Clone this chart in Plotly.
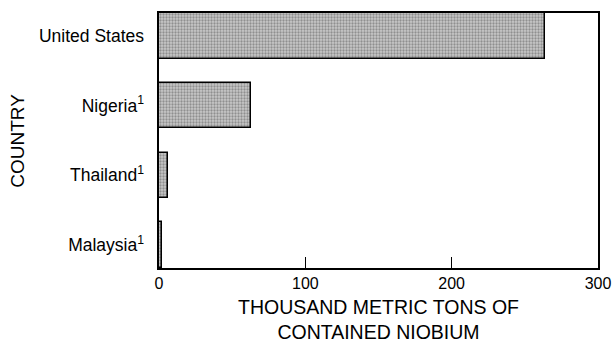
import plotly.graph_objects as go

countries = ["United States", "Nigeria<sup>1</sup>", "Thailand<sup>1</sup>", "Malaysia<sup>1</sup>"]
values = [264, 63, 6, 2]
x_ticks = [0, 100, 200, 300]

font_family = "Liberation Sans, Arial, Helvetica, sans-serif"

fig = go.Figure(go.Bar(
    y=countries,
    x=values,
    orientation="h",
    width=0.65,
    marker=dict(
        color="#b4b4b4",
        line=dict(color="black", width=1.5),
        pattern=dict(shape=".", fgcolor="#555555", bgcolor="#c8c8c8", size=3, solidity=0.45),
    ),
))

fig.update_layout(
    width=613, height=345,
    margin=dict(l=159, r=15, t=13, b=77),
    paper_bgcolor="white", plot_bgcolor="white",
    font=dict(family=font_family, color="black", size=15),
    showlegend=False,
    bargap=0,
)
fig.update_xaxes(
    range=[0, 300], tickvals=x_ticks, ticks="inside", ticklen=11, tickwidth=1.2,
    tickcolor="black", showline=True, linecolor="black", linewidth=1.5, mirror=True,
    showgrid=False, zeroline=False, tickfont=dict(size=16), automargin=False,
    title=dict(text="THOUSAND METRIC TONS OF<br>CONTAINED NIOBIUM", font=dict(size=19.5), standoff=9),
)
fig.update_yaxes(
    categoryorder="array", categoryarray=countries[::-1], range=[-0.33, 3.33],
    showline=True, linecolor="black", linewidth=1.5, mirror=True, ticks="",
    showgrid=False, zeroline=False, tickfont=dict(size=17.5), ticksuffix="  ", automargin=False,
)
fig.add_annotation(
    text="COUNTRY", textangle=-90, xref="paper", yref="paper",
    x=-0.323, y=0.5, xanchor="center", yanchor="middle", showarrow=False,
    font=dict(size=19),
)

fig.write_html(
    "out.html",
    config={"displayModeBar": False},
    post_script="document.body.style.margin='0';document.body.style.overflow='hidden';",
)
